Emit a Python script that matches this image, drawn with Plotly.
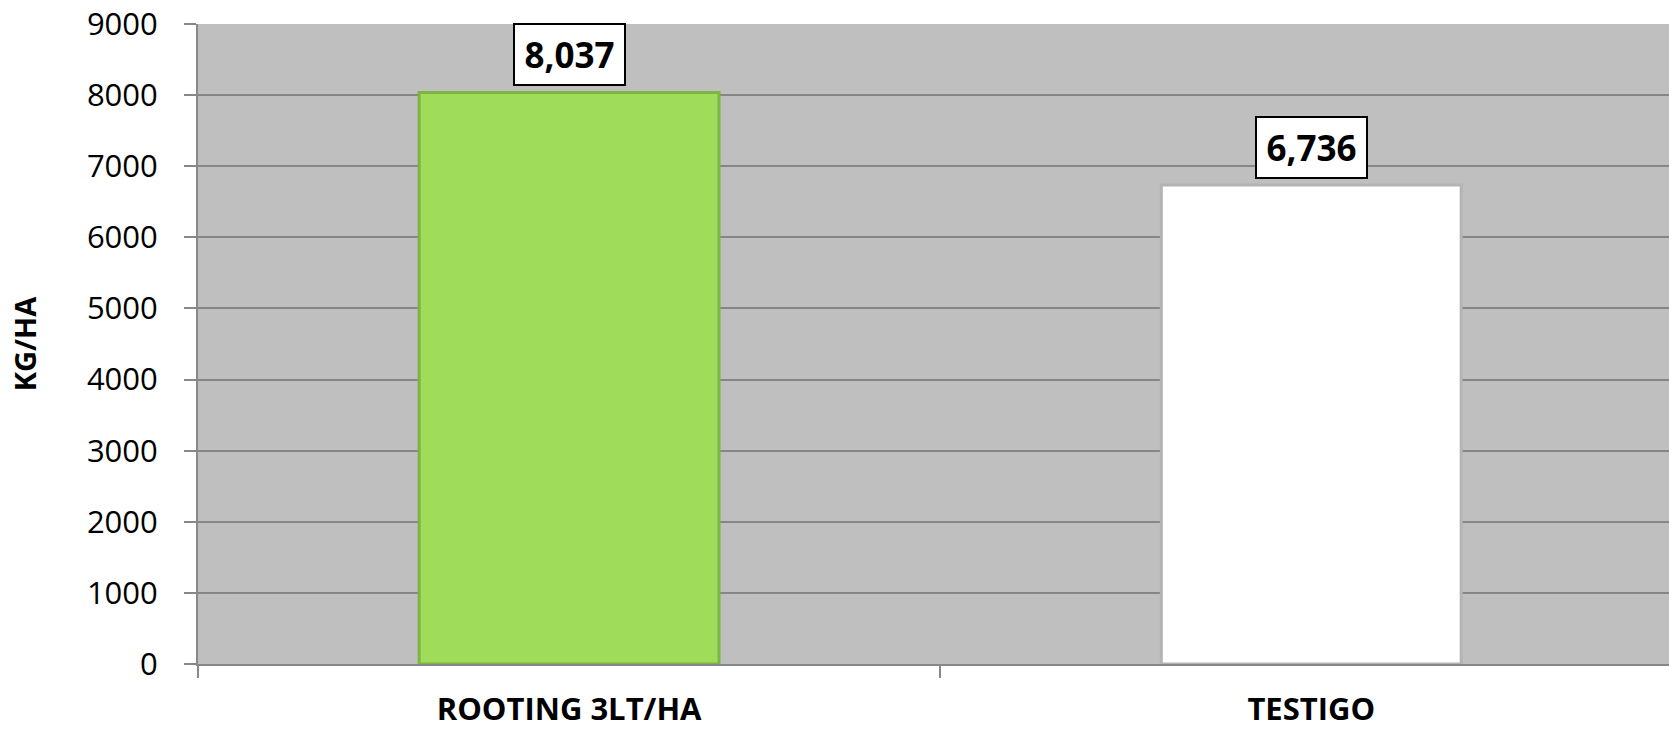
import plotly.graph_objects as go

categories = ["ROOTING 3LT/HA", "TESTIGO"]
values = [8037, 6736]
value_labels = ["8,037", "6,736"]
bar_colors = ["#9EDC5A", "#FFFFFF"]
bar_line_colors = ["#7DB544", "#B4B4B4"]
y_ticks = [0, 1000, 2000, 3000, 4000, 5000, 6000, 7000, 8000, 9000]

FONT = "Open Sans"

fig = go.Figure()
fig.add_trace(go.Bar(
    x=categories,
    y=values,
    width=0.404,
    marker=dict(color=bar_colors, line=dict(color=bar_line_colors, width=3)),
    showlegend=False,
    hoverinfo="x+y",
))

for c, v, t in zip(categories, values, value_labels):
    fig.add_annotation(
        x=c, y=v, text="<b>" + t + "</b>", showarrow=False,
        yanchor="bottom", yshift=6,
        font=dict(family=FONT, size=35, color="black"),
        bgcolor="white", bordercolor="black", borderwidth=2,
        width=101, height=51, borderpad=4,
    )

fig.update_layout(
    width=1669, height=732,
    margin=dict(l=198, r=0, t=24, b=68, autoexpand=False),
    paper_bgcolor="white",
    plot_bgcolor="#BFBFBF",
    font=dict(family=FONT, color="black"),
)

fig.update_yaxes(
    range=[0, 9000],
    tickvals=y_ticks,
    ticktext=[str(v) for v in y_ticks],
    tickfont=dict(family=FONT, size=31, color="black"),
    ticks="outside", ticklen=12, tickcolor="#888888", tickwidth=2,
    ticklabelstandoff=20,
    ticklabeloverflow="allow",
    showgrid=True, gridcolor="#868686", gridwidth=2,
    showline=True, linecolor="#888888", linewidth=2,
    zeroline=False,
    title=dict(text="<b>KG/HA</b>", font=dict(family=FONT, size=29, color="black"), standoff=42),
    automargin=False,
)

fig.update_xaxes(
    type="category",
    range=[-0.5, 1.482],
    tickson="boundaries",
    ticks="outside", ticklen=12, tickcolor="#888888", tickwidth=2,
    tickfont=dict(family=FONT, size=31, color="black"),
    tickprefix="<b>", ticksuffix="</b>",
    ticklabelstandoff=17,
    ticklabeloverflow="allow",
    showline=True, linecolor="#888888", linewidth=2,
    showgrid=False,
    automargin=False,
)

fig.write_html(
    "out.html",
    config={"displayModeBar": False},
    post_script="document.body.style.margin='0';document.body.style.overflow='hidden';",
)
